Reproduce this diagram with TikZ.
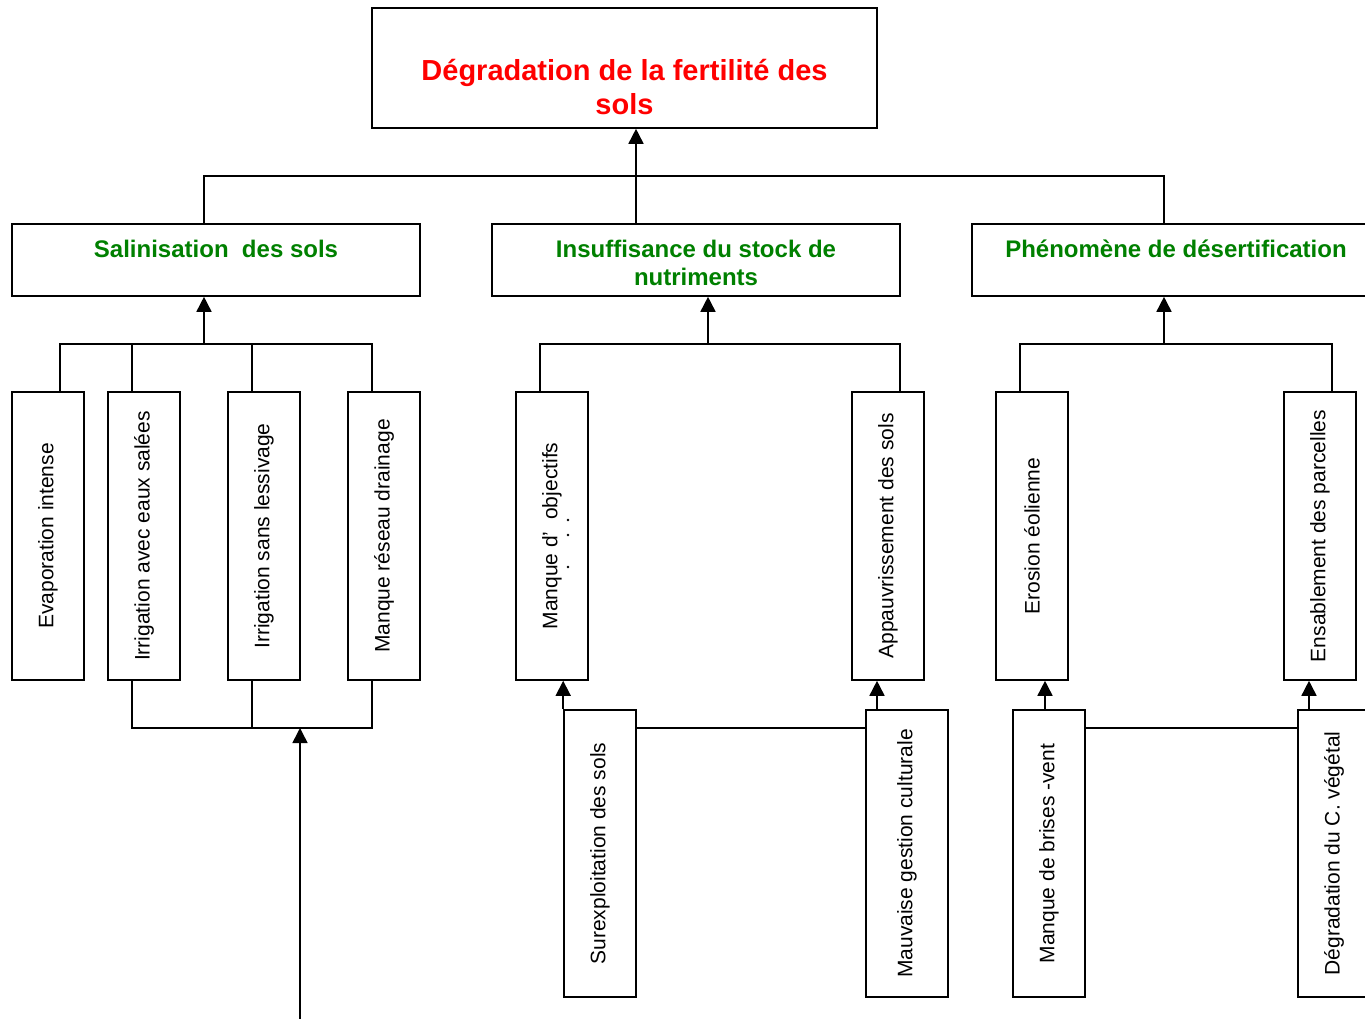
\documentclass[tikz,border=0pt]{standalone}
\usepackage{fontspec}
\setmainfont{Liberation Sans}
\usetikzlibrary{arrows.meta}
\definecolor{titlered}{RGB}{255,0,0}
\definecolor{headgreen}{RGB}{0,128,0}
\begin{document}
\begin{tikzpicture}[x=1pt,y=-1pt,
  line width=1.6pt,
  frame/.style={draw, rectangle, inner sep=0pt, line width=1.6pt},
  vbox/.style={frame, minimum width=72pt, minimum height=288pt,
    font=\fontsize{21}{24}\selectfont},
  lowbox/.style={frame, minimum width=72pt, minimum height=287pt,
    font=\fontsize{21}{24}\selectfont},
  headbox/.style={frame, minimum width=408pt, minimum height=72pt},
  headtxt/.style={anchor=base, align=center, text=headgreen,
    font=\fontsize{24}{28}\selectfont\bfseries},
  arr/.style={-{Triangle[length=15pt,width=15pt]}}
]
\useasboundingbox (0,0) rectangle (1365,1019);

% ---- top box ----
\node[frame, minimum width=505pt, minimum height=120pt] (top) at (624.5,68) {};
% base anchor of a two-line node sits on its last line
\node[anchor=base, align=center, text=titlered,
  font=\fontsize{29}{34}\selectfont\bfseries] (toptxt) at (624.5,114.5)
  {Dégradation de la fertilité des\\sols};

% ---- second level ----
\node[headbox] (sal) at (216,260) {};
\node[headbox] (ins) at (696,260) {};
\node[headbox] (des) at (1176,260) {};
\node[headtxt] (saltxt) at (216,257.5) {Salinisation\ \ des sols};
\node[headtxt] (instxt) at (696,285.5) {Insuffisance du stock de\\nutriments};
\node[headtxt] (destxt) at (1176,257.5) {Phénomène de désertification};

\coordinate (busL) at (204,176);
\coordinate (busR) at (1164,176);
\draw (sal.north -| busL) -- (busL) -- (busR) -- (des.north -| busR);
\draw[arr] (ins.north -| 636,0) -- (top.south -| 636,0);

% ---- salinisation causes ----
\node[vbox] (evap)  at (48,536)  {\rotatebox{90}{Evaporation intense}};
\node[vbox] (irra)  at (144,536) {\rotatebox{90}{Irrigation avec eaux salées}};
\node[vbox] (irrb)  at (264,536) {\rotatebox{90}{Irrigation sans lessivage}};
\node[vbox] (drain) at (384,536) {\rotatebox{90}{Manque réseau drainage}};

\coordinate (sbL) at (60,344);
\coordinate (sbR) at (372,344);
\draw (evap.north -| sbL) -- (sbL) -- (sbR) -- (drain.north -| sbR);
\draw (irra.north -| 132,0) -- (sbL -| 132,0);
\draw (irrb.north -| 252,0) -- (sbL -| 252,0);
\draw[arr] (sbL -| 204,0) -- (sal.south -| 204,0);

\coordinate (sdL) at (132,728);
\coordinate (sdR) at (372,728);
\draw (irra.south -| sdL) -- (sdL) -- (sdR) -- (drain.south -| sdR);
\draw (irrb.south -| 252,0) -- (sdL -| 252,0);
\coordinate (feed) at (300,1019);
\draw[arr] (feed) -- (sdL -| feed);

% ---- nutrient causes ----
\node[vbox] (obj)  at (552,536) {\rotatebox{90}{Manque d’ \ objectifs}};
\fill (568,567) circle (1.3pt) (568,535) circle (1.3pt) (568,520) circle (1.3pt);
\node[vbox] (appa) at (888,536) {\rotatebox{90}{Appauvrissement des sols}};

\coordinate (ibL) at (540,344);
\coordinate (ibR) at (900,344);
\draw (obj.north -| ibL) -- (ibL) -- (ibR) -- (appa.north -| ibR);
\draw[arr] (ibL -| 708,0) -- (ins.south -| 708,0);

\node[lowbox] (surx) at (600,853.5) {\rotatebox{90}{Surexploitation des sols}};
\node[lowbox, minimum width=82pt] (gest) at (907,853.5) {\rotatebox{90}{Mauvaise gestion culturale}};
\draw (surx.east |- 0,728) -- (gest.west |- 0,728);
\draw[arr] (surx.north west) -- (obj.south -| surx.north west);
\draw[arr] (gest.north -| 877,0) -- (appa.south -| 877,0);

% ---- desertification causes ----
\node[vbox] (eol)  at (1032,536) {\rotatebox{90}{Erosion éolienne}};
\node[vbox] (ensa) at (1320,536) {\rotatebox{90}{Ensablement des parcelles}};

\coordinate (dbL) at (1020,344);
\coordinate (dbR) at (1332,344);
\draw (eol.north -| dbL) -- (dbL) -- (dbR) -- (ensa.north -| dbR);
\draw[arr] (dbL -| 1164,0) -- (des.south -| 1164,0);

\node[lowbox] (brise) at (1049,853.5) {\rotatebox{90}{Manque de brises -vent}};
\node[lowbox] (cveg)  at (1334,853.5) {\rotatebox{90}{Dégradation du C. végétal}};
\draw (brise.east |- 0,728) -- (cveg.west |- 0,728);
\draw[arr] (brise.north -| 1045,0) -- (eol.south -| 1045,0);
\draw[arr] (cveg.north -| 1309,0) -- (ensa.south -| 1309,0);
\end{tikzpicture}
\end{document}
